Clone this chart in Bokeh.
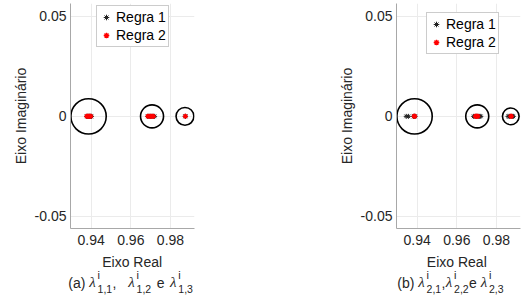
from bokeh.plotting import figure
from bokeh.models import Range1d, FixedTicker, Div
from bokeh.layouts import row, column
from bokeh.embed import file_html
from bokeh.resources import INLINE

# ---------------- data ----------------
x_ticks = [0.94, 0.96, 0.98]
x_tick_labels = ["0.94", "0.96", "0.98"]
y_ticks = [-0.05, 0, 0.05]
y_tick_labels = ["-0.05", "0", "0.05"]

series_names = ["Regra 1", "Regra 2"]

# panel (a): real parts of the eigenvalues (imaginary parts are zero)
a_regra1_re = [0.9377, 0.9382, 0.9387, 0.9392, 0.9397, 0.9402,
               0.9685, 0.9692, 0.9699, 0.9706, 0.9713, 0.9720,
               0.9874, 0.9876]
a_regra1_im = [0.0] * len(a_regra1_re)
a_regra2_re = [0.9378, 0.9383, 0.9388, 0.9393, 0.9398,
               0.9686, 0.9693, 0.9700, 0.9707, 0.9714,
               0.9875]
a_regra2_im = [0.0] * len(a_regra2_re)
a_circle_re = [0.9387, 0.9707, 0.9873]
a_circle_im = [0.0, 0.0, 0.0]
a_circle_r = [0.0089, 0.0058, 0.0045]

# panel (b)
b_regra1_re = [0.9345, 0.9356, 0.9382, 0.9386, 0.9390,
               0.9685, 0.9692, 0.9700, 0.9708, 0.9715, 0.9721,
               0.9858, 0.9866, 0.9873, 0.9880, 0.9885]
b_regra1_im = [0.0] * len(b_regra1_re)
b_regra2_re = [0.9385, 0.9388,
               0.9694, 0.9698, 0.9702, 0.9706,
               0.9872, 0.9875]
b_regra2_im = [0.0] * len(b_regra2_re)
b_circle_re = [0.9387, 0.9703, 0.9872]
b_circle_im = [0.0, 0.0, 0.0]
b_circle_r = [0.0089, 0.0058, 0.0042]

subs_a = ["1,1", "1,2", "1,3"]
subs_b = ["2,1", "2,2", "2,3"]

x_label = "Eixo Real"
y_label = "Eixo Imagin\u00e1rio"

# ---------------- styling ----------------
FONT = "Liberation Sans"
TXT = "#262626"
FRAME_W, FRAME_H = 124, 225
BORDER_TOP = 3
PANEL_H = 253
CAP_H = 43
PAGE_X0 = 0


def make_panel(re1, im1, re2, im2, cre, cim, cr, min_left, min_right, legend_loc):
    p = figure(frame_width=FRAME_W, frame_height=FRAME_H,
               min_border_left=min_left, min_border_right=min_right,
               min_border_top=BORDER_TOP,
               min_border_bottom=PANEL_H - FRAME_H - BORDER_TOP,
               x_range=Range1d(0.9296, 0.9921), y_range=Range1d(-0.05615, 0.0565),
               output_backend="svg", toolbar_location=None,
               background_fill_color="white", border_fill_color="white")
    p.outline_line_color = None

    p.xaxis.ticker = FixedTicker(ticks=x_ticks)
    p.yaxis.ticker = FixedTicker(ticks=y_ticks)
    p.xaxis.major_label_overrides = dict(zip(x_ticks, x_tick_labels))
    p.yaxis.major_label_overrides = dict(zip(y_ticks, y_tick_labels))
    for ax in (p.xaxis[0], p.yaxis[0]):
        ax.major_tick_line_color = None
        ax.minor_tick_line_color = None
        ax.major_tick_out = 0
        ax.major_tick_in = 0
        ax.minor_tick_out = 0
        ax.minor_tick_in = 0
        ax.axis_line_color = "#a8a8a8"
        ax.axis_line_width = 1
        ax.major_label_text_font = FONT
        ax.major_label_text_font_size = "14px"
        ax.major_label_text_color = TXT
        ax.axis_label_text_font = FONT
        ax.axis_label_text_font_size = "14px"
        ax.axis_label_text_font_style = "normal"
        ax.axis_label_text_color = TXT
    p.xaxis.major_label_standoff = 6
    p.yaxis.major_label_standoff = 4
    p.yaxis.axis_label_standoff = 3
    p.yaxis.axis_label = y_label
    p.xgrid.grid_line_color = "#ebebeb"
    p.ygrid.grid_line_color = "#ebebeb"

    p.scatter(re1, im1, marker="asterisk", size=5, line_color="#222222",
              line_width=1, legend_label=series_names[0])
    p.scatter(re2, im2, marker="asterisk", size=5, line_color="#ff0000",
              line_width=1.3, legend_label=series_names[1])
    p.circle(cre, cim, radius=cr, fill_color=None, line_color="black",
             line_width=1.6)

    lg = p.legend[0]
    lg.location = legend_loc
    lg.label_text_font = FONT
    lg.label_text_font_size = "14px"
    lg.label_text_color = "black"
    lg.border_line_color = "#9a9a9a"
    lg.border_line_width = 1
    lg.background_fill_color = "white"
    lg.background_fill_alpha = 1
    lg.padding = 2
    lg.margin = 0
    lg.spacing = 0
    lg.glyph_width = 14
    lg.glyph_height = 18
    lg.label_height = 18
    lg.label_standoff = 3
    return p


ASC = 0.846  # baseline position inside a line-height:1 box, in em
SUB_DX = 8.3  # sub/superscript start, measured from the left of the lambda


def make_caption(width, fig_left, xlabel_x, tag, tag_x, lam_xs, subs, comma_xs, e_x):
    """HTML strip below a panel: x-axis title plus the panel caption.
    Positions are given as page pixels (left edge / baseline)."""
    top = PANEL_H
    base, sup_base, sub_base = 288.0, 279.5, 292.5
    spans = []

    def put(text, px, py, size, font=FONT, style="normal", center=False):
        t = py - ASC * size - top
        if center:
            l = px - fig_left - 60
            extra = "width:120px;text-align:center;"
        else:
            l = px - fig_left
            extra = ""
        spans.append(
            f'<span style="position:absolute;left:{l:.1f}px;top:{t:.1f}px;'
            f'{extra}font-family:\'{font}\';font-size:{size}px;font-style:{style};'
            f'line-height:1;white-space:nowrap;color:{TXT};">{text}</span>')

    put(x_label, xlabel_x, 266.5, 14, center=True)
    put(tag, tag_x, base, 14)
    for lx, s in zip(lam_xs, subs):
        put("\u03bb", lx, base, 15, font="Liberation Serif", style="italic")
        put("i", lx + SUB_DX, sup_base, 11)
        put(s, lx + SUB_DX, sub_base, 10.5)
    for cx in comma_xs:
        put(",", cx, base, 14)
    put("e", e_x, base, 14)
    html = (f'<div style="position:relative;width:{width}px;height:{CAP_H}px;'
            f'margin:0;padding:0;">' + "".join(spans) + "</div>")
    return Div(text=html, width=width, height=CAP_H, margin=0)


W1 = 70 + FRAME_W + 69
W2 = 133 + FRAME_W + 4

p1 = make_panel(a_regra1_re, a_regra1_im, a_regra2_re, a_regra2_im,
                a_circle_re, a_circle_im, a_circle_r, 70, 69, (26, 181))
c1 = make_caption(W1, PAGE_X0, 132.2, "(a)", 68.3, [89.3, 128.3, 170.0],
                  subs_a, [112.5], 156.7)

p2 = make_panel(b_regra1_re, b_regra1_im, b_regra2_re, b_regra2_im,
                b_circle_re, b_circle_im, b_circle_r, 133, 4, (30, 174))
c2 = make_caption(W2, PAGE_X0 + W1, 456.8, "(b)", 397.3, [418.3, 445.8, 480.7],
                  subs_b, [441.5], 469.0)

layout = row(column(p1, c1, spacing=0), column(p2, c2, spacing=0), spacing=0)
open("out.html", "w").write(file_html(layout, INLINE))
